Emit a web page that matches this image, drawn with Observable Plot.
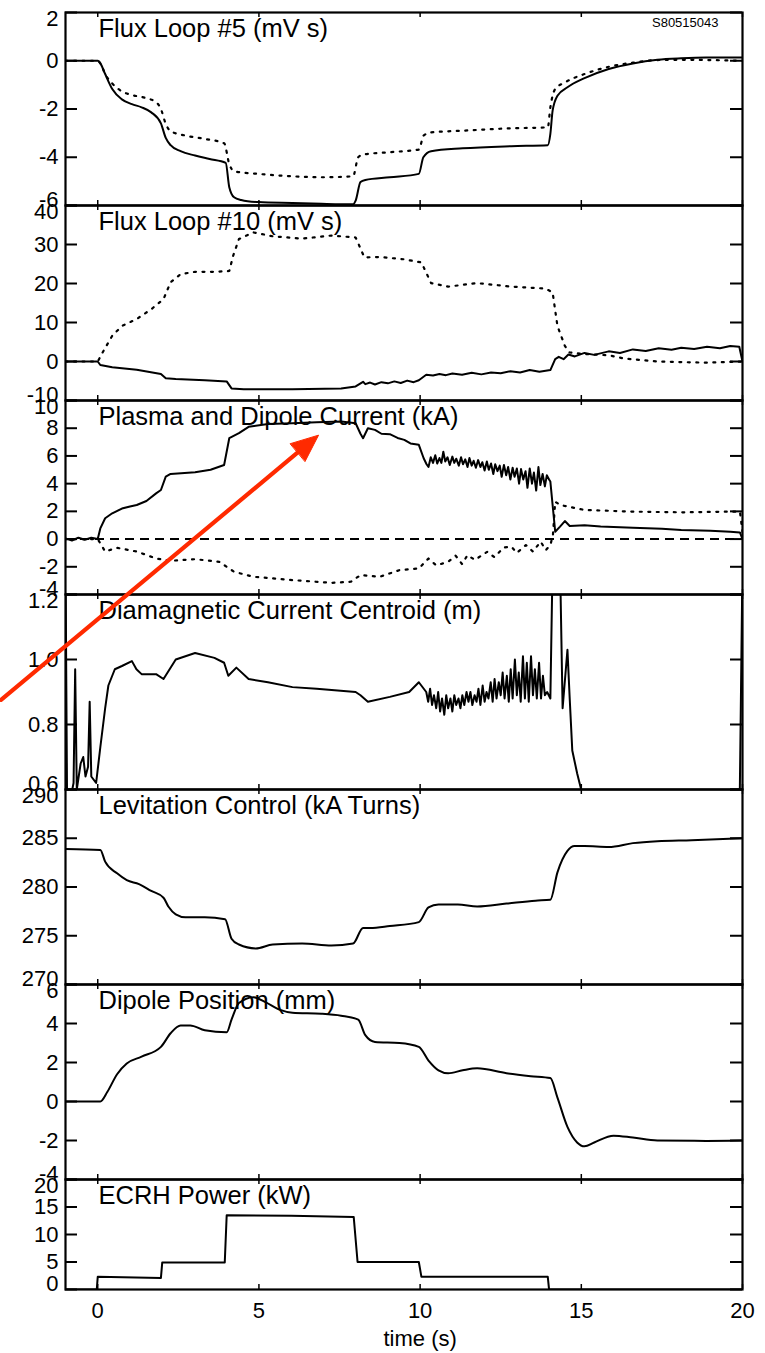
<!DOCTYPE html>
<html>
<head>
<meta charset="utf-8">
<script src="https://cdn.jsdelivr.net/npm/d3@7"></script>
<script src="https://cdn.jsdelivr.net/npm/@observablehq/plot@0.6"></script>
<style>
  html, body { margin: 0; padding: 0; background: #fff; overflow: hidden; }
  #chart { position: relative; width: 765px; }
  #chart svg { display: block; overflow: visible; background: transparent; }
</style>
</head>
<body>
<div id="chart"></div>
<script>
// ---------------- data (time in s, value) ----------------
const xTicks = [0, 5, 10, 15, 20];
const xTickLabels = ["0", "5", "10", "15", "20"];
const xTitle = "time (s)";
const shotLabel = "S80515043";

const titles = [
  "Flux Loop #5 (mV s)",
  "Flux Loop #10 (mV s)",
  "Plasma and Dipole Current (kA)",
  "Diamagnetic Current Centroid (m)",
  "Levitation Control (kA Turns)",
  "Dipole Position (mm)",
  "ECRH Power (kW)"
];

const flux5Ticks = [-6, -4, -2, 0, 2];
const flux5Labels = ["-6", "-4", "-2", "0", "2"];
const flux5Solid = [[-1,0],[0,0],[0.1,-0.15],[0.23,-0.55],[0.45,-1.17],[0.75,-1.6],[1.06,-1.8],[1.36,-1.93],[1.66,-2.14],[1.96,-2.6],[2.11,-3.2],[2.26,-3.5],[2.57,-3.75],[3.02,-3.93],[3.47,-4.07],[3.97,-4.23],[4.08,-5.24],[4.23,-5.66],[4.45,-5.77],[4.98,-5.86],[6.04,-5.9],[6.94,-5.93],[7.92,-5.95],[8.0,-5.8],[8.15,-5.03],[8.3,-4.94],[9.06,-4.83],[9.96,-4.69],[10.1,-4.0],[10.34,-3.75],[11.32,-3.63],[12.83,-3.54],[13.96,-3.5],[14.04,-3.03],[14.11,-2.07],[14.26,-1.45],[14.57,-1.1],[15.1,-0.72],[15.85,-0.34],[16.6,-0.11],[17.36,0.04],[18.1,0.1],[18.87,0.13],[20,0.13]];
const flux5Dotted = [[-1,0],[0,0],[0.1,-0.15],[0.23,-0.55],[0.45,-0.94],[0.75,-1.27],[1.06,-1.42],[1.5,-1.55],[1.81,-1.72],[1.96,-2.0],[2.11,-2.62],[2.26,-2.92],[2.72,-3.1],[3.32,-3.24],[3.92,-3.42],[4.08,-4.28],[4.23,-4.58],[4.98,-4.69],[6.04,-4.79],[6.94,-4.83],[7.92,-4.79],[8.08,-4.0],[8.23,-3.89],[9.06,-3.79],[9.96,-3.68],[10.11,-3.1],[10.34,-2.97],[11.32,-2.9],[12.83,-2.8],[13.96,-2.76],[14.04,-1.93],[14.19,-1.17],[14.49,-0.9],[15.1,-0.55],[15.85,-0.25],[16.6,-0.08],[17.36,0.03],[18.1,0.04],[18.87,0.03],[20,0]];

const flux10Ticks = [-10, 0, 10, 20, 30, 40];
const flux10Labels = ["-10", "0", "10", "20", "30", "40"];
const flux10Solid = [[-1,0],[0,0],[0.08,-0.9],[0.45,-1.5],[1.21,-2.1],[1.96,-3.2],[2.11,-4.3],[2.42,-4.5],[3.32,-4.8],[4.0,-5.1],[4.15,-6.9],[4.53,-7.1],[6.04,-7.1],[7.55,-6.9],[8.0,-6.4],[8.23,-5.2],[8.3,-5.8],[8.45,-5.4],[8.6,-5.9],[8.8,-5.3],[9.0,-5.6],[9.2,-5.1],[9.4,-5.5],[9.6,-4.9],[9.8,-5.3],[9.96,-4.8],[10.19,-3.4],[10.4,-3.6],[10.6,-3.2],[10.8,-3.5],[11.0,-3.1],[11.3,-3.4],[11.6,-2.9],[11.9,-3.3],[12.2,-2.8],[12.5,-3.0],[12.8,-2.5],[13.1,-2.8],[13.4,-2.2],[13.7,-2.6],[14.04,-2.2],[14.19,0.6],[14.3,1.2],[14.45,0.6],[14.6,1.8],[14.8,1.3],[15.1,2.2],[15.4,1.7],[15.85,2.6],[16.2,2.2],[16.6,3.1],[17.0,2.7],[17.4,3.4],[17.8,3.0],[18.1,3.5],[18.5,3.2],[18.9,3.8],[19.3,3.4],[19.62,4.0],[19.9,3.8],[20,0]];
const flux10Dotted = [[-1,0],[0,0],[0.15,2.3],[0.45,6.6],[0.75,9.1],[1.21,10.9],[1.66,13.4],[2.04,16.0],[2.26,20.3],[2.57,22.4],[3.02,23.0],[3.62,23.0],[4.08,23.2],[4.2,27.1],[4.38,31.4],[4.83,33.1],[5.43,32.1],[6.34,31.5],[7.25,32.3],[8.0,31.8],[8.27,26.7],[8.75,26.8],[9.51,26.2],[10.04,25.4],[10.34,20.1],[10.87,19.2],[11.77,20.1],[12.83,19.2],[13.89,18.7],[14.11,17.7],[14.26,9.1],[14.49,4.0],[14.64,2.3],[15.1,1.9],[15.85,1.6],[16.3,0.8],[17.36,0],[18.87,-0.3],[20,0]];

const currentTicks = [-4, -2, 0, 2, 4, 6, 8, 10];
const currentLabels = ["-4", "-2", "0", "2", "4", "6", "8", "10"];
const plasmaCurrent = [[-1,0.05],[-0.8,-0.1],[-0.6,0.1],[-0.4,-0.05],[-0.2,0.1],[0,0],[0.08,0.77],[0.23,1.5],[0.45,1.86],[0.75,2.2],[1.0,2.35],[1.21,2.46],[1.51,2.75],[1.81,3.3],[1.96,3.54],[2.11,4.5],[2.26,4.7],[3.02,4.82],[3.5,5.0],[3.92,5.35],[4.08,7.28],[4.38,7.64],[4.68,8.1],[5.28,8.3],[6.04,8.36],[6.79,8.43],[7.55,8.48],[8.0,8.36],[8.15,7.6],[8.23,7.28],[8.38,8.0],[8.6,7.88],[8.8,7.6],[9.06,7.57],[9.3,7.3],[9.51,7.16],[9.7,6.9],[9.96,6.8],[10.11,5.83],[10.2,5.4],[10.26,5.2],[10.33,5.9],[10.4,5.5],[10.47,6.05],[10.53,5.45],[10.6,5.85],[10.66,5.5],[10.72,6.3],[10.78,5.6],[10.85,5.9],[10.92,5.35],[11.0,5.95],[11.06,5.5],[11.12,5.8],[11.2,5.3],[11.27,5.9],[11.33,5.4],[11.4,5.75],[11.47,5.2],[11.53,5.85],[11.6,5.3],[11.66,5.65],[11.73,5.15],[11.8,5.7],[11.87,5.2],[11.93,5.55],[12.0,4.95],[12.07,5.6],[12.13,5.0],[12.2,5.45],[12.27,4.7],[12.33,5.4],[12.4,4.9],[12.47,5.3],[12.53,4.5],[12.6,5.35],[12.67,4.6],[12.73,5.2],[12.8,4.3],[12.87,5.15],[12.93,4.5],[13.0,5.1],[13.07,4.0],[13.13,5.05],[13.2,4.3],[13.27,4.9],[13.33,3.7],[13.4,5.1],[13.47,4.0],[13.53,4.8],[13.6,3.5],[13.67,5.2],[13.73,3.9],[13.8,4.7],[13.87,3.8],[13.93,4.6],[14.0,4.3],[14.04,4.15],[14.11,2.46],[14.19,0.53],[14.34,0.9],[14.49,1.3],[14.64,0.94],[15.1,1.0],[15.6,0.9],[16.6,0.82],[17.5,0.75],[18.1,0.65],[19.0,0.6],[19.62,0.53],[19.92,0.48],[20,0]];
const dipoleCurrent = [[-1,0],[0,0],[0.23,-0.9],[0.6,-0.63],[1.21,-0.9],[1.81,-1.4],[2.26,-1.57],[3.02,-1.45],[3.77,-1.64],[4.23,-2.36],[4.83,-2.72],[6.04,-2.96],[7.25,-3.16],[7.85,-3.08],[8.15,-2.6],[8.75,-2.72],[9.36,-2.24],[9.96,-2.12],[10.26,-1.4],[10.5,-1.9],[10.87,-1.64],[11.1,-1.2],[11.3,-1.8],[11.47,-1.16],[11.7,-1.5],[12.08,-0.92],[12.3,-1.3],[12.6,-0.6],[12.83,-0.55],[13.0,-1.0],[13.28,-0.43],[13.5,-0.9],[13.74,-0.19],[13.9,-0.8],[14.04,-0.43],[14.12,0.3],[14.19,2.7],[14.34,2.46],[15.1,2.1],[16.6,1.98],[18.1,1.93],[19.62,1.98],[19.92,1.98],[20,0.5]];
const arrowStart = [-3.0, -11.6];   // annotation arrow, (s, kA)
const arrowEnd = [6.85, 7.5];

const centroidTicks = [0.6, 0.8, 1.0, 1.2];
const centroidLabels = ["0.6", "0.8", "1.0", "1.2"];
const centroid = [[-1.0,1.3],[-0.95,0.55],[-0.83,0.58],[-0.75,0.62],[-0.7,0.97],[-0.65,0.6],[-0.53,0.68],[-0.45,0.7],[-0.38,0.64],[-0.3,0.67],[-0.25,0.87],[-0.2,0.64],[-0.05,0.62],[0.08,0.73],[0.23,0.85],[0.33,0.92],[0.53,0.97],[0.75,0.98],[1.06,0.995],[1.2,0.97],[1.36,0.955],[1.81,0.955],[2.04,0.94],[2.42,1.0],[3.02,1.02],[3.62,1.005],[3.92,0.99],[4.05,0.95],[4.3,0.975],[4.68,0.94],[5.28,0.93],[6.04,0.915],[6.79,0.91],[8.0,0.9],[8.15,0.89],[8.38,0.87],[9.06,0.885],[9.66,0.9],[9.96,0.93],[10.19,0.9],[10.25,0.87],[10.31,0.91],[10.37,0.86],[10.43,0.89],[10.5,0.85],[10.56,0.9],[10.62,0.84],[10.68,0.88],[10.75,0.83],[10.81,0.89],[10.87,0.85],[10.94,0.88],[11.0,0.84],[11.06,0.89],[11.12,0.86],[11.19,0.88],[11.25,0.85],[11.31,0.89],[11.37,0.86],[11.44,0.9],[11.5,0.87],[11.56,0.9],[11.62,0.86],[11.69,0.89],[11.75,0.87],[11.81,0.91],[11.87,0.86],[11.94,0.92],[12.0,0.87],[12.06,0.9],[12.12,0.88],[12.19,0.93],[12.25,0.87],[12.31,0.94],[12.37,0.88],[12.44,0.93],[12.5,0.89],[12.56,0.96],[12.62,0.88],[12.69,0.95],[12.75,0.87],[12.81,0.97],[12.87,0.88],[12.94,1.0],[13.0,0.89],[13.06,0.96],[13.12,0.87],[13.19,1.01],[13.25,0.88],[13.31,0.99],[13.37,0.87],[13.44,1.01],[13.5,0.89],[13.56,0.97],[13.62,0.88],[13.69,0.99],[13.75,0.88],[13.81,0.95],[13.87,0.89],[13.94,0.9],[14.04,0.88],[14.11,1.3],[14.34,1.3],[14.42,0.85],[14.57,1.03],[14.64,0.88],[14.72,0.72],[14.87,0.65],[15.02,0.59],[15.3,0.45],[19.9,0.45],[20,1.3]];

const levTicks = [270, 275, 280, 285, 290];
const levLabels = ["270", "275", "280", "285", "290"];
const levitation = [[-1,283.9],[0.08,283.8],[0.23,282.6],[0.6,281.4],[0.9,280.7],[1.28,280.3],[1.66,279.6],[2.04,278.9],[2.19,278.0],[2.42,277.2],[2.72,276.9],[3.32,276.9],[3.95,276.7],[4.15,274.7],[4.38,274.1],[4.9,273.7],[5.43,274.1],[6.34,274.2],[7.25,274.0],[7.92,274.2],[8.23,275.8],[8.45,275.8],[9.06,276.0],[9.96,276.4],[10.26,277.9],[10.57,278.2],[11.17,278.2],[11.77,278.0],[12.68,278.3],[13.58,278.6],[14.04,278.7],[14.26,281.5],[14.57,283.7],[14.79,284.2],[15.1,284.2],[15.85,284.1],[16.6,284.5],[17.36,284.7],[18.42,284.8],[20,285.0]];

const posTicks = [-4, -2, 0, 2, 4, 6];
const posLabels = ["-4", "-2", "0", "2", "4", "6"];
const dipolePosition = [[-1,0],[0.08,0],[0.3,0.5],[0.6,1.4],[0.9,1.95],[1.36,2.3],[1.96,2.8],[2.26,3.5],[2.57,3.9],[2.87,3.9],[3.32,3.65],[4.0,3.55],[4.15,4.2],[4.38,5.05],[4.83,5.35],[5.2,5.1],[5.66,4.7],[6.04,4.55],[6.94,4.5],[7.55,4.4],[8.08,4.2],[8.3,3.4],[8.6,3.05],[9.36,3.0],[9.96,2.8],[10.26,2.1],[10.57,1.6],[10.87,1.45],[11.32,1.6],[11.77,1.7],[12.68,1.45],[13.43,1.3],[14.04,1.2],[14.26,0.2],[14.57,-1.3],[14.87,-2.1],[15.1,-2.3],[15.4,-2.1],[16.0,-1.75],[16.6,-1.85],[17.36,-2.0],[18.87,-2.02],[20,-2.0]];

const ecrhTicks = [0, 5, 10, 15, 20];
const ecrhLabels = ["0", "5", "10", "15", "20"];
const ecrhPower = [[-1,0],[-0.03,0],[0,2.3],[1.96,2.1],[2.0,4.9],[3.94,4.9],[4.0,13.5],[6.0,13.4],[7.94,13.2],[8.06,5.0],[9.96,5.0],[10.04,2.3],[13.96,2.3],[14.0,0],[20,0]];

// ---------------- drawing ----------------
const W = 765, ML = 65, MR = 23;
const innerW = W - ML - MR;
const FONT = "Liberation Sans, Arial, Helvetica, sans-serif";
const TICK_FS = 22, TITLE_FS = 25.5;
const ARROW_COLOR = "#ff2a00";

function solid(data, curve = "linear") {
  return Plot.line(data, {x: d => d[0], y: d => d[1], stroke: "black", strokeWidth: 2, clip: true, curve});
}
function dotted(data, curve = "linear") {
  return Plot.line(data, {x: d => d[0], y: d => d[1], stroke: "black", strokeWidth: 2.2, strokeDasharray: "2,6.5", clip: true, curve});
}

function panel({height, mt = 0, mb = 0, domain, ticks, labels, title, marks = [], extra = []}) {
  const innerH = height - mt - mb;
  const lab = ticks.map((v, i) => ({v, s: labels[i]}));
  const mid = lab.slice(1, -1), lo = lab.slice(0, 1), hi = lab.slice(-1);
  const txt = (data, dy) => Plot.text(data, {y: "v", text: "s", frameAnchor: "left", textAnchor: "end", lineAnchor: "middle", dx: -7, dy, fontSize: TICK_FS, fill: "black"});
  return Plot.plot({
    width: W, height,
    marginLeft: ML, marginRight: MR, marginTop: mt, marginBottom: mb,
    x: {domain: [-1, 20], axis: null},
    y: {domain, axis: null},
    style: {fontFamily: FONT, background: "transparent", overflow: "visible", color: "black"},
    marks: [
      ...marks,
      Plot.frame({stroke: "black", strokeWidth: 2.2}),
      Plot.tickY(ticks, {y: d => d, insetRight: innerW - 12, stroke: "black", strokeWidth: 2}),
      Plot.tickY(ticks, {y: d => d, insetLeft: innerW - 12, stroke: "black", strokeWidth: 2}),
      Plot.tickX(xTicks, {x: d => d, insetBottom: innerH - 5, stroke: "black", strokeWidth: 1.5}),
      Plot.tickX(xTicks, {x: d => d, insetTop: innerH - 5, stroke: "black", strokeWidth: 1.5}),
      txt(mid, 0), txt(lo, -6), txt(hi, 6),
      Plot.text([title], {text: d => d, frameAnchor: "top-left", textAnchor: "start", lineAnchor: "middle", dx: 33, dy: 16, fontSize: TITLE_FS, fill: "black"}),
      ...extra
    ]
  });
}

const chart = document.getElementById("chart");

const p1 = panel({height: 205, mt: 12, domain: [-6, 2], ticks: flux5Ticks, labels: flux5Labels, title: titles[0],
  marks: [dotted(flux5Dotted, "monotone-x"), solid(flux5Solid, "monotone-x")],
  extra: [Plot.text([shotLabel], {text: d => d, frameAnchor: "top-right", textAnchor: "end", lineAnchor: "middle", dx: -24, dy: 10, fontSize: 13, fill: "black"})]});
const p2 = panel({height: 195, domain: [-10, 40], ticks: flux10Ticks, labels: flux10Labels, title: titles[1],
  marks: [dotted(flux10Dotted), solid(flux10Solid)]});
const p3 = panel({height: 194, domain: [-4, 10], ticks: currentTicks, labels: currentLabels, title: titles[2],
  marks: [Plot.ruleY([0], {stroke: "black", strokeWidth: 2, strokeDasharray: "9,6"}), dotted(dipoleCurrent), solid(plasmaCurrent)],
  extra: [Plot.arrow([[arrowStart, arrowEnd]], {x1: d => d[0][0], y1: d => d[0][1], x2: d => d[1][0], y2: d => d[1][1], stroke: ARROW_COLOR, strokeWidth: 4.2, headLength: 10.5, headAngle: 46})]});
const p4 = panel({height: 195, domain: [0.6, 1.2], ticks: centroidTicks, labels: centroidLabels, title: titles[3],
  marks: [solid(centroid)]});
const p5 = panel({height: 195, domain: [270, 290], ticks: levTicks, labels: levLabels, title: titles[4],
  marks: [solid(levitation, "monotone-x")]});
const p6 = panel({height: 195, domain: [-4, 6], ticks: posTicks, labels: posLabels, title: titles[5],
  marks: [solid(dipolePosition, "monotone-x")]});
const p7 = panel({height: 174, mb: 64, domain: [0, 20], ticks: ecrhTicks, labels: ecrhLabels, title: titles[6],
  marks: [solid(ecrhPower)],
  extra: [
    Plot.text(xTicks, {x: d => d, text: (d, i) => xTickLabels[i], frameAnchor: "bottom", lineAnchor: "middle", dy: 21, fontSize: TICK_FS, fill: "black"}),
    Plot.text([xTitle], {x: 10, text: d => d, frameAnchor: "bottom", lineAnchor: "middle", dy: 49, fontSize: TICK_FS, fill: "black"})
  ]});

// turn the arrow's open head into a filled triangle (uses the positions Plot computed)
(function fillArrowHead(svg) {
  const path = svg.querySelector('g[aria-label="arrow"] path');
  if (!path) return;
  const n = (path.getAttribute("d") || "").match(/-?\d*\.?\d+(?:e[-+]?\d+)?/gi);
  if (!n || n.length < 10) return;
  const v = n.map(Number);
  const [x1, y1, x2, y2, ax, ay] = v;
  const bx = v[8], by = v[9];
  const poly = document.createElementNS("http://www.w3.org/2000/svg", "polygon");
  poly.setAttribute("points", `${ax},${ay} ${x2},${y2} ${bx},${by}`);
  poly.setAttribute("fill", ARROW_COLOR);
  poly.setAttribute("stroke", ARROW_COLOR);
  poly.setAttribute("stroke-width", "1");
  poly.setAttribute("stroke-linejoin", "miter");
  path.parentNode.appendChild(poly);
  path.setAttribute("d", `M${x1},${y1}L${(ax + bx) / 2},${(ay + by) / 2}`);
})(p3);

[p1, p2, p3, p4, p5, p6, p7].forEach((p, i) => {
  p.style.position = "relative";
  p.style.zIndex = i === 2 ? 5 : 1;
  chart.appendChild(p);
});
</script>
</body>
</html>
